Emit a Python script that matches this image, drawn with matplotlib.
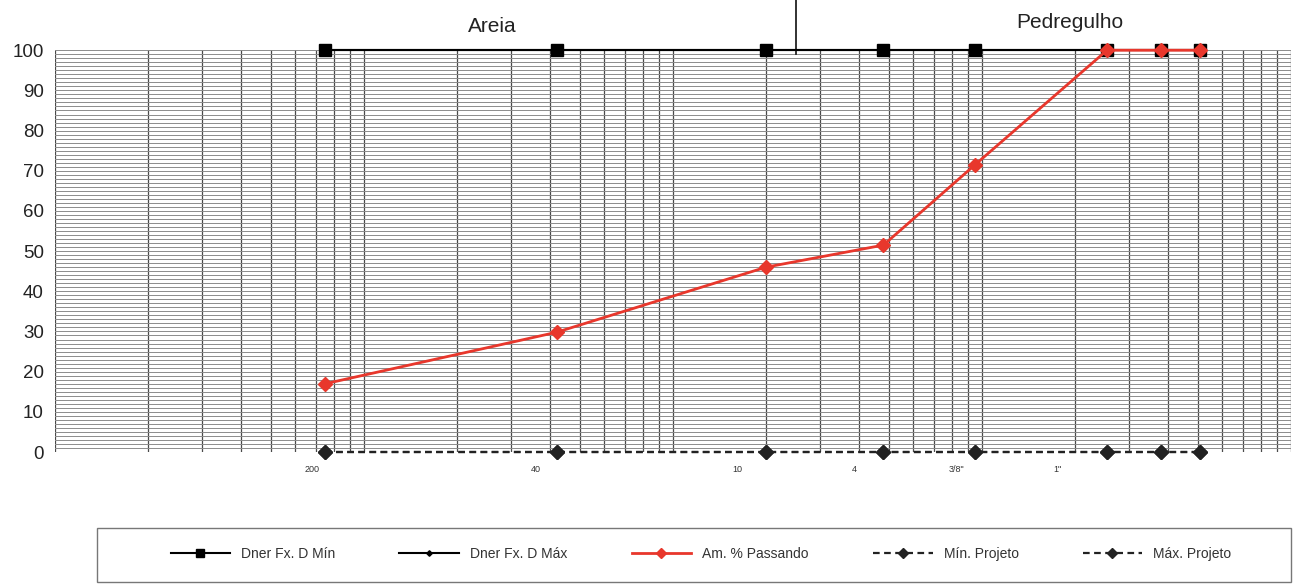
import matplotlib
matplotlib.use("Agg")
import matplotlib.pyplot as plt
import matplotlib.transforms as mtransforms
from matplotlib.patches import Rectangle
from matplotlib.ticker import MultipleLocator, LogLocator, NullFormatter

plt.rcParams['font.family'] = ['Liberation Sans', 'DejaVu Sans']

# abertura das peneiras (mm)
peneiras = [0.075, 0.42, 2.0, 4.8, 9.5, 25.4, 38.1, 50.8]
dner_min = [100, 100, 100, 100, 100, 100, 100, 100]
dner_max = [100, 100, 100, 100, 100, 100, 100, 100]
passando = [17.0, 29.8, 46.0, 51.5, 71.5, 100, 100, 100]
min_projeto = [0, 0, 0, 0, 0, 0, 0, 0]
max_projeto = [0, 0, 0, 0, 0, 0, 0, 0]

rotulos_x = ['200', '40', '10', '4', '3/8"', '1"']
pos_rotulos_x = [0.068, 0.36, 1.62, 3.85, 8.3, 17.5]

fig = plt.figure(figsize=(12.99, 5.84), dpi=100)
ax = fig.add_axes([0.0423, 0.226, 0.9515, 0.688])

ax.set_xscale('log')
ax.set_xlim(0.01, 100)
ax.set_ylim(0, 100)

# grade
ax.xaxis.set_minor_locator(LogLocator(base=10, subs=range(2, 10)))
ax.xaxis.set_minor_formatter(NullFormatter())
ax.yaxis.set_major_locator(MultipleLocator(10))
ax.yaxis.set_minor_locator(MultipleLocator(1))
ax.grid(True, axis='x', which='minor', color='#4a4a4a', lw=0.9)
ax.grid(True, axis='y', which='both', color='#8c8c8c', lw=0.7)
for d in [0.01, 0.1, 1, 10, 100]:
    ax.axvline(d, color='#4a4a4a', lw=0.9, zorder=0.5)
for s in ax.spines.values():
    s.set_visible(False)
ax.tick_params(axis='both', which='both', length=0)
ax.tick_params(axis='y', labelsize=13.5, pad=8, labelcolor='#222222')

ax.set_xticks(pos_rotulos_x, minor=False)
ax.set_xticklabels(rotulos_x, fontsize=6.5, color='#333333')
ax.tick_params(axis='x', pad=9)

ax.plot(peneiras, dner_min, color='black', lw=1.5, marker='s', markersize=9,
        label='Dner Fx. D Mín', clip_on=False, zorder=3)
ax.plot(peneiras, dner_max, color='black', lw=1.5, marker='D', markersize=4,
        label='Dner Fx. D Máx', clip_on=False, zorder=3)
ax.plot(peneiras, passando, color='#e8372c', lw=2, marker='D', markersize=7,
        label='Am. % Passando', clip_on=False, zorder=4)
ax.plot(peneiras, min_projeto, color='#222222', lw=1.6, ls=(0, (3, 2)),
        marker='D', markersize=7, label='Mín. Projeto', clip_on=False, zorder=3)
ax.plot(peneiras, max_projeto, color='#222222', lw=1.6, ls=(0, (3, 2)),
        marker='D', markersize=7, label='Máx. Projeto', clip_on=False, zorder=3)

# divisao areia / pedregulho
ax.axvline(2.5, ymin=0.99, ymax=1.13, color='#222222', lw=1.3, clip_on=False)
trans = mtransforms.blended_transform_factory(ax.transData, ax.transAxes)
ax.text(0.261, 1.058, 'Areia', transform=trans, ha='center', va='center',
        fontsize=15, color='#222222')
ax.text(19.3, 1.07, 'Pedregulho', transform=trans, ha='center', va='center',
        fontsize=15, color='#222222')

# caixa da legenda
fig.patches.append(Rectangle((97 / 1299, 2 / 584), 1194 / 1299, 54 / 584,
                             transform=fig.transFigure, fill=False,
                             edgecolor='#777777', lw=1.0))
leg = fig.legend(loc='center', ncol=5, bbox_to_anchor=(701 / 1299, 30 / 584),
                 fontsize=10, frameon=False, handlelength=4.3,
                 handletextpad=0.8, columnspacing=4.6, markerscale=0.7)
for t in leg.get_texts():
    t.set_color('#333333')

fig.savefig('out.png', dpi=100)
